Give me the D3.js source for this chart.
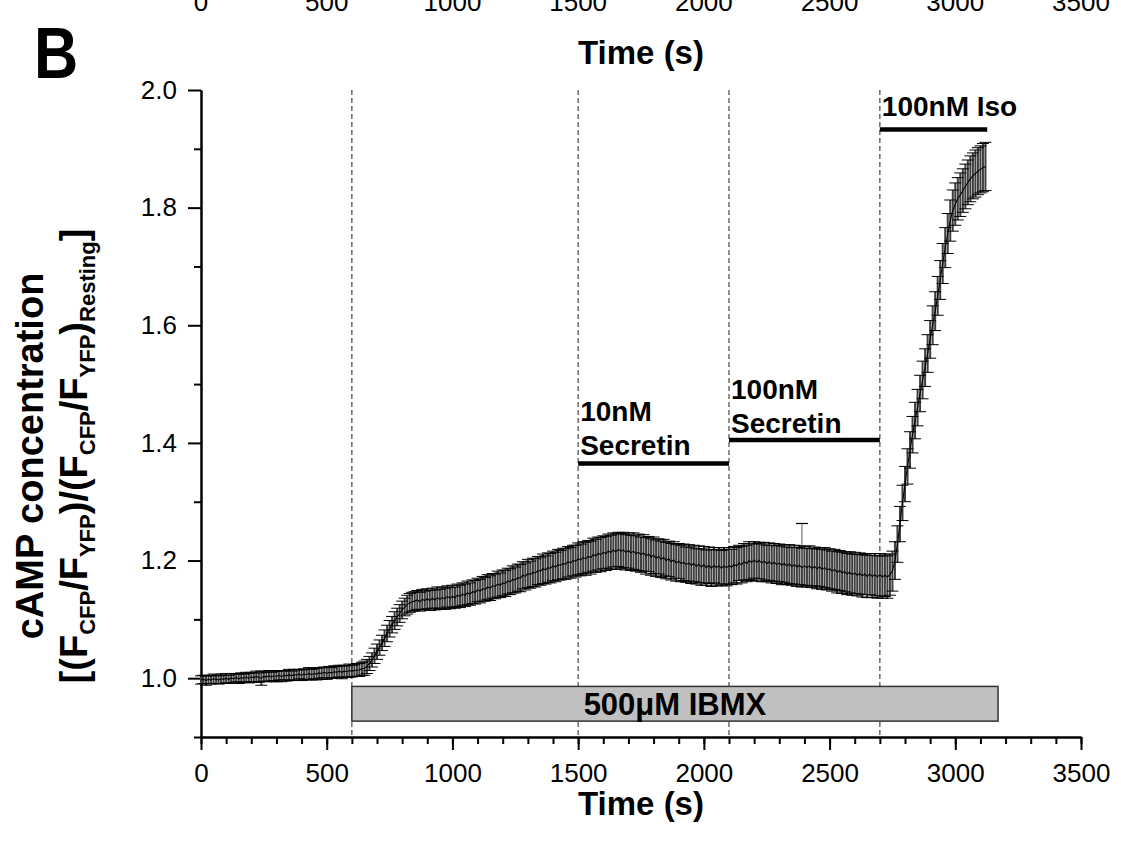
<!DOCTYPE html>
<html>
<head>
<meta charset="utf-8">
<script src="https://cdn.jsdelivr.net/npm/d3@7"></script>
<style>
  body { margin: 0; background: #fff; }
  svg { display: block; font-family: "Liberation Sans", Arial, sans-serif; }
</style>
</head>
<body>
<div class="chart-container"></div>
<script>
// Data. One sample every 10 s from 0 to 3120 s.
const sampleStep = 10;
const meanValues = [
  // 0 - 600 s
  0.997,0.998,0.996,0.998,0.997,0.999,0.998,0.997,0.999,0.998,
  1.000,0.998,1.000,0.999,1.001,0.999,1.001,1.000,1.002,1.000,
  1.002,1.001,1.003,1.001,1.000,1.003,1.002,1.004,1.002,1.004,
  1.003,1.005,1.003,1.005,1.004,1.006,1.004,1.006,1.005,1.007,
  1.005,1.007,1.006,1.008,1.006,1.008,1.007,1.009,1.008,1.010,
  1.008,1.010,1.009,1.011,1.010,1.012,1.010,1.012,1.011,1.013,
  1.012,
  // 610 - 850 s
  1.013,1.014,1.014,1.016,1.017,1.020,1.025,1.031,1.038,1.045,
  1.052,1.060,1.068,1.076,1.084,1.091,1.098,1.104,1.110,1.116,
  1.121,1.125,1.128,1.130,1.131,
  // 860 - 1490 s
  1.133,1.130,1.134,1.132,1.135,1.132,1.136,1.133,1.137,1.134,
  1.137,1.135,1.139,1.136,1.139,1.137,1.141,1.139,1.143,1.141,
  1.145,1.143,1.147,1.146,1.150,1.148,1.152,1.151,1.155,1.153,
  1.157,1.156,1.160,1.158,1.162,1.161,1.165,1.164,1.168,1.167,
  1.171,1.170,1.175,1.173,1.178,1.176,1.180,1.179,1.183,1.182,
  1.186,1.184,1.188,1.187,1.191,1.189,1.193,1.192,1.195,1.194,
  1.198,1.196,1.200,1.199,
  // 1500 - 2090 s
  1.203,1.201,1.205,1.203,1.207,1.205,1.210,1.208,1.212,1.210,
  1.214,1.212,1.216,1.214,1.218,1.215,1.219,1.216,1.218,1.214,
  1.217,1.213,1.216,1.212,1.214,1.210,1.213,1.208,1.211,1.206,
  1.209,1.204,1.207,1.202,1.205,1.200,1.203,1.198,1.201,1.196,
  1.199,1.195,1.197,1.193,1.196,1.192,1.195,1.190,1.194,1.189,
  1.193,1.188,1.192,1.187,1.192,1.188,1.191,1.187,1.191,1.188,
  // 2100 - 2740 s
  1.191,1.189,1.193,1.191,1.196,1.193,1.198,1.195,1.200,1.197,
  1.201,1.197,1.200,1.196,1.199,1.195,1.198,1.194,1.197,1.193,
  1.196,1.192,1.195,1.191,1.194,1.190,1.193,1.189,1.192,1.188,
  1.191,1.188,1.191,1.187,1.190,1.186,1.189,1.185,1.188,1.184,
  1.186,1.182,1.185,1.180,1.183,1.179,1.181,1.177,1.180,1.176,
  1.179,1.175,1.178,1.174,1.177,1.173,1.177,1.173,1.176,1.172,
  1.176,1.172,1.175,1.172,1.176,
  // 2750 - 3120 s
  1.182,1.200,1.228,1.262,1.298,1.330,1.360,1.388,1.414,1.438,
  1.460,1.484,1.507,1.528,1.552,1.576,1.600,1.624,1.650,1.677,
  1.705,1.732,1.756,1.778,1.795,1.806,1.815,1.822,1.829,1.836,
  1.843,1.849,1.854,1.858,1.862,1.865,1.868,1.870
];
const errorValues = [
  0.007,0.007,0.008,0.007,0.007,0.008,0.007,0.007,0.008,0.007,
  0.008,0.007,0.008,0.008,0.007,0.008,0.008,0.007,0.008,0.008,
  0.008,0.008,0.009,0.008,0.012,0.008,0.008,0.009,0.008,0.008,
  0.009,0.008,0.009,0.008,0.009,0.009,0.008,0.009,0.009,0.008,
  0.009,0.009,0.009,0.010,0.009,0.009,0.010,0.009,0.010,0.009,
  0.010,0.010,0.009,0.010,0.010,0.010,0.011,0.010,0.010,0.011,
  0.010,
  0.010,0.011,0.011,0.011,0.012,0.012,0.012,0.012,0.013,0.013,
  0.013,0.013,0.014,0.014,0.014,0.014,0.015,0.015,0.015,0.015,
  0.015,0.016,0.016,0.016,0.016,
  0.016,0.016,0.017,0.016,0.017,0.017,0.017,0.017,0.018,0.017,
  0.018,0.018,0.018,0.018,0.019,0.018,0.019,0.019,0.019,0.019,
  0.020,0.019,0.020,0.020,0.020,0.020,0.021,0.020,0.021,0.021,
  0.021,0.021,0.022,0.021,0.022,0.022,0.022,0.022,0.023,0.022,
  0.023,0.023,0.023,0.023,0.024,0.023,0.024,0.024,0.024,0.024,
  0.025,0.024,0.025,0.025,0.025,0.025,0.026,0.025,0.026,0.026,
  0.026,0.026,0.026,0.027,
  0.027,0.027,0.027,0.028,0.027,0.028,0.028,0.028,0.028,0.029,
  0.028,0.029,0.029,0.029,0.029,0.030,0.029,0.030,0.030,0.030,
  0.030,0.030,0.031,0.030,0.031,0.030,0.031,0.031,0.030,0.031,
  0.031,0.031,0.030,0.031,0.031,0.031,0.030,0.031,0.031,0.031,
  0.030,0.031,0.031,0.030,0.031,0.031,0.031,0.030,0.031,0.031,
  0.031,0.030,0.031,0.031,0.030,0.031,0.031,0.030,0.031,0.031,
  0.031,0.030,0.031,0.031,0.030,0.031,0.031,0.031,0.032,0.031,
  0.031,0.032,0.031,0.032,0.032,0.031,0.032,0.032,0.032,0.032,
  0.032,0.033,0.032,0.032,0.033,0.032,0.033,0.033,0.033,0.033,
  0.033,0.033,0.034,0.033,0.033,0.034,0.033,0.034,0.034,0.034,
  0.034,0.034,0.034,0.035,0.034,0.035,0.034,0.035,0.035,0.035,
  0.035,0.035,0.035,0.036,0.035,0.036,0.035,0.036,0.036,0.036,
  0.036,0.036,0.036,0.036,0.035,
  0.034,0.032,0.031,0.030,0.030,0.030,0.030,0.031,0.031,0.031,
  0.031,0.031,0.032,0.032,0.032,0.032,0.033,0.033,0.033,0.033,
  0.034,0.034,0.034,0.035,0.035,0.036,0.036,0.037,0.037,0.038,
  0.038,0.039,0.039,0.040,0.040,0.040,0.041,0.041
];
// one odd error bar that only goes up
const spikeTime = 2390;
const spikeTop = 1.263;

const xMajorTicks = [0, 500, 1000, 1500, 2000, 2500, 3000, 3500];
const xMinorTicks = d3.range(0, 3501, 100);
const yMajorTicks = [1.0, 1.2, 1.4, 1.6, 1.8, 2.0];
const yMinorTicks = [0.9, 1.1, 1.3, 1.5, 1.7, 1.9];

const eventTimes = [600, 1500, 2100, 2700];
const ibmx = { label: '500\u03BCM IBMX', start: 600, end: 3170, top: 0.986, bottom: 0.927 };
const treatments = [
  { lines: ['10nM', 'Secretin'], start: 1500, end: 2100, level: 1.365 },
  { lines: ['100nM', 'Secretin'], start: 2100, end: 2700, level: 1.405 },
  { lines: ['100nM Iso'], start: 2700, end: 3127, level: 1.933 }
];
const treatmentGaps = [8, 7, 13];

const svg = d3.select('.chart-container')
  .append('svg')
  .attr('width', 1121)
  .attr('height', 846);

const area = { left: 201, right: 1081, top: 90, bottom: 737 };

const xScale = d3.scaleLinear().domain([0, 3500]).range([area.left, area.right]);
const yScale = d3.scaleLinear().domain([0.9, 2.0]).range([area.bottom, area.top]);

const points = meanValues.map((m, i) => ({ t: i * sampleStep, mean: m, err: errorValues[i] }));

drawPanelTop();
drawAxes();
drawEvents();
drawSeries();
drawTreatments();
drawLabels();

function styleAxis(g) {
  g.selectAll('path, line').attr('stroke', '#000').attr('stroke-width', 2);
  g.selectAll('text').attr('fill', '#000').attr('font-size', 26)
    .attr('font-family', '"Liberation Sans", Arial, sans-serif');
}

function drawPanelTop() {
  // tick labels of the panel above, cut off by the frame
  svg.append('g')
    .selectAll('text')
    .data(xMajorTicks)
    .enter()
    .append('text')
    .attr('x', d => xScale(d))
    .attr('y', 11)
    .attr('text-anchor', 'middle')
    .attr('font-size', 26)
    .text(d => d);

  svg.append('text')
    .attr('x', (area.left + area.right) / 2)
    .attr('y', 64)
    .attr('text-anchor', 'middle')
    .attr('font-size', 33)
    .attr('font-weight', 'bold')
    .text('Time (s)');

  // panel letter, narrow and tall like in the figure
  svg.append('text')
    .attr('transform', 'translate(34, 78) scale(0.84, 1)')
    .attr('font-size', 73)
    .attr('font-weight', 'bold')
    .text('B');
}

function drawAxes() {
  svg.append('g')
    .attr('transform', `translate(0, ${area.bottom})`)
    .call(d3.axisBottom(xScale).tickValues(xMinorTicks).tickSize(7).tickSizeOuter(0).tickFormat(() => ''))
    .call(styleAxis);
  svg.append('g')
    .attr('transform', `translate(0, ${area.bottom})`)
    .call(d3.axisBottom(xScale).tickValues(xMajorTicks).tickSize(13).tickPadding(14).tickSizeOuter(0)
      .tickFormat(d3.format('d')))
    .call(styleAxis);

  svg.append('g')
    .attr('transform', `translate(${area.left}, 0)`)
    .call(d3.axisLeft(yScale).tickValues(yMinorTicks).tickSize(7).tickSizeOuter(0).tickFormat(() => ''))
    .call(styleAxis);
  svg.append('g')
    .attr('transform', `translate(${area.left}, 0)`)
    .call(d3.axisLeft(yScale).tickValues(yMajorTicks).tickSize(13).tickPadding(11).tickSizeOuter(0)
      .tickFormat(d3.format('.1f')))
    .call(styleAxis);
}

function drawEvents() {
  svg.append('g')
    .selectAll('line')
    .data(eventTimes)
    .enter()
    .append('line')
    .attr('x1', d => xScale(d))
    .attr('x2', d => xScale(d))
    .attr('y1', yScale(2.0))
    .attr('y2', yScale(0.9))
    .attr('stroke', '#555')
    .attr('stroke-width', 1.3)
    .attr('stroke-dasharray', '5,3');

  svg.append('rect')
    .attr('x', xScale(ibmx.start))
    .attr('y', yScale(ibmx.top))
    .attr('width', xScale(ibmx.end) - xScale(ibmx.start))
    .attr('height', yScale(ibmx.bottom) - yScale(ibmx.top))
    .attr('fill', '#c0c0c0')
    .attr('stroke', '#333')
    .attr('stroke-width', 1.5);

  svg.append('text')
    .attr('x', (xScale(ibmx.start) + xScale(ibmx.end)) / 2)
    .attr('y', (yScale(ibmx.top) + yScale(ibmx.bottom)) / 2 + 11)
    .attr('text-anchor', 'middle')
    .attr('font-size', 31)
    .attr('font-weight', 'bold')
    .text(ibmx.label);
}

function drawSeries() {
  const g = svg.append('g');
  const cap = 6;

  g.selectAll('.bar')
    .data(points)
    .enter()
    .append('line')
    .attr('class', 'bar')
    .attr('x1', d => xScale(d.t))
    .attr('x2', d => xScale(d.t))
    .attr('y1', d => yScale(d.mean + d.err))
    .attr('y2', d => yScale(d.mean - d.err))
    .attr('stroke', '#3e3e3e')
    .attr('stroke-width', 2);

  const spike = points.find(p => p.t === spikeTime);
  g.append('line')
    .attr('x1', xScale(spikeTime)).attr('x2', xScale(spikeTime))
    .attr('y1', yScale(spikeTop)).attr('y2', yScale(spike.mean))
    .attr('stroke', '#777').attr('stroke-width', 1.2);
  g.append('line')
    .attr('x1', xScale(spikeTime) - cap).attr('x2', xScale(spikeTime) + cap)
    .attr('y1', yScale(spikeTop)).attr('y2', yScale(spikeTop))
    .attr('stroke', '#000').attr('stroke-width', 1.2);

  ['up', 'down'].forEach(side => {
    g.selectAll('.cap-' + side)
      .data(points)
      .enter()
      .append('line')
      .attr('class', 'cap-' + side)
      .attr('x1', d => xScale(d.t) - cap)
      .attr('x2', d => xScale(d.t) + cap)
      .attr('y1', d => yScale(side === 'up' ? d.mean + d.err : d.mean - d.err))
      .attr('y2', d => yScale(side === 'up' ? d.mean + d.err : d.mean - d.err))
      .attr('stroke', '#000')
      .attr('stroke-width', 1);
  });

  const line = d3.line().x(d => xScale(d.t)).y(d => yScale(d.mean));
  g.append('path')
    .datum(points)
    .attr('d', line)
    .attr('fill', 'none')
    .attr('stroke', '#000')
    .attr('stroke-width', 1.1);
}

function drawTreatments() {
  const g = svg.append('g');
  treatments.forEach((tr, k) => {
    const y = yScale(tr.level);
    g.append('line')
      .attr('x1', xScale(tr.start)).attr('x2', xScale(tr.end))
      .attr('y1', y).attr('y2', y)
      .attr('stroke', '#000').attr('stroke-width', 4.5);
    const n = tr.lines.length;
    tr.lines.forEach((txt, i) => {
      g.append('text')
        .attr('x', xScale(tr.start) + 2)
        .attr('y', y - treatmentGaps[k] - (n - 1 - i) * 34)
        .attr('font-size', 28)
        .attr('font-weight', 'bold')
        .text(txt);
    });
  });
}

function drawLabels() {
  svg.append('text')
    .attr('x', (area.left + area.right) / 2)
    .attr('y', 815)
    .attr('text-anchor', 'middle')
    .attr('font-size', 33)
    .attr('font-weight', 'bold')
    .text('Time (s)');

  const cy = 456;
  svg.append('text')
    .attr('transform', `translate(43, ${cy}) rotate(-90)`)
    .attr('text-anchor', 'middle')
    .attr('font-size', 38)
    .attr('font-weight', 'bold')
    .text('cAMP concentration');

  const parts = [
    ['[(F', false], ['CFP', true], ['/F', false], ['YFP', true], [')/(F', false],
    ['CFP', true], ['/F', false], ['YFP', true], [')', false], ['Resting', true], [']', false]
  ];
  const t2 = svg.append('text')
    .attr('transform', `translate(87, ${cy}) rotate(-90)`)
    .attr('text-anchor', 'middle')
    .attr('font-size', 38)
    .attr('font-weight', 'bold');
  parts.forEach((p, i) => {
    const prevSub = i > 0 && parts[i - 1][1];
    const dy = p[1] ? (prevSub ? 0 : 8) : (prevSub ? -8 : 0);
    t2.append('tspan')
      .attr('dy', dy)
      .attr('font-size', p[1] ? 22 : 38)
      .text(p[0]);
  });
}
</script>
</body>
</html>
